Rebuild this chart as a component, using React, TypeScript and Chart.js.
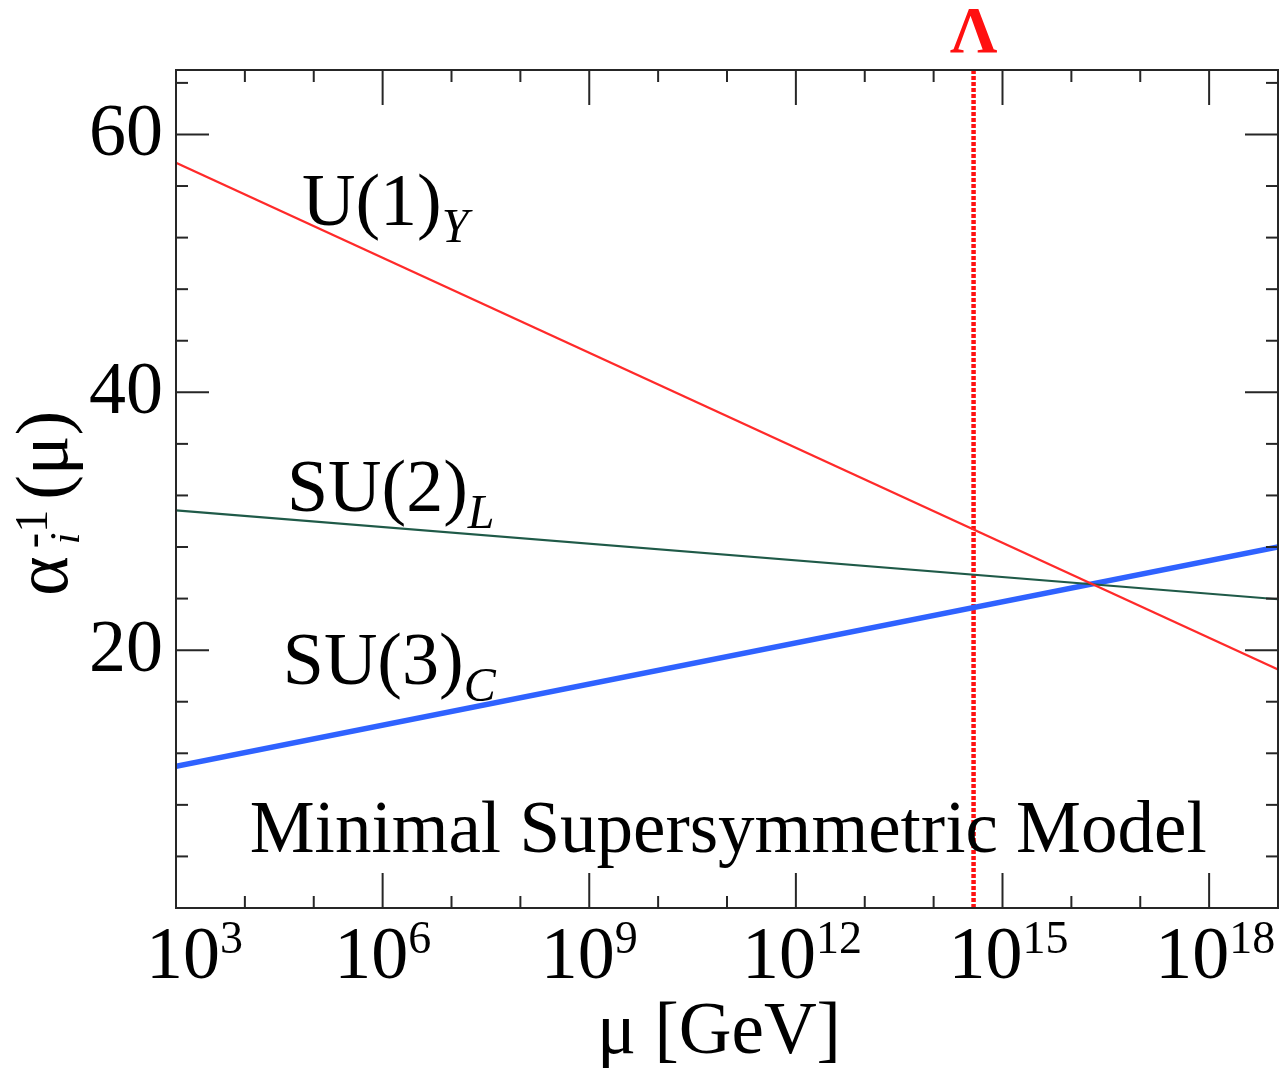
import React, { useEffect, useRef } from "react";
import { Chart, registerables } from "chart.js";

Chart.register(...registerables);

// ---- data (x = log10(mu / GeV)) ----
const logMu = [3, 19];
const u1Y = [57.8, 18.5];
const su2L = [30.85, 23.95];
const su3C = [11.0, 28.0];
const lambdaLogMu = 14.58;

// ---- axis ticks ----
const xMajorExps = [3, 6, 9, 12, 15, 18];
const xMinorExps = [4, 5, 7, 8, 10, 11, 13, 14, 16, 17];
const yMajorTicks = [20, 40, 60];
const yMinorTicks = [4, 8, 12, 16, 24, 28, 32, 36, 44, 48, 52, 56, 64];
const xRange = [3, 19];
const yRange = [0, 65];

const FONT = '"Liberation Serif", "Times New Roman", serif';
const f = (size: number, italic = false, bold = false) =>
  `${italic ? "italic " : ""}${bold ? "bold " : ""}${size}px ${FONT}`;

type Part = { t: string; size: number; italic?: boolean; dy?: number };

function drawRich(ctx: CanvasRenderingContext2D, parts: Part[], x: number, y: number) {
  let cx = x;
  for (const p of parts) {
    ctx.font = f(p.size, p.italic);
    ctx.fillText(p.t, cx, y + (p.dy || 0));
    cx += ctx.measureText(p.t).width;
  }
}

const decorPlugin = {
  id: "decor",
  afterDatasetsDraw(chart: any) {
    const ctx: CanvasRenderingContext2D = chart.ctx;
    const xs = chart.scales.x;
    const ys = chart.scales.y;
    const { left, right, top, bottom } = chart.chartArea;
    ctx.save();
    // frame
    ctx.strokeStyle = "#262626";
    ctx.lineWidth = 2;
    ctx.strokeRect(left, top, right - left, bottom - top);
    const tick = (x1: number, y1: number, x2: number, y2: number) => {
      ctx.beginPath();
      ctx.moveTo(x1, y1);
      ctx.lineTo(x2, y2);
      ctx.stroke();
    };
    for (const e of xMajorExps) {
      const px = xs.getPixelForValue(e);
      tick(px, bottom, px, bottom - 35);
      tick(px, top, px, top + 35);
    }
    for (const e of xMinorExps) {
      const px = xs.getPixelForValue(e);
      tick(px, bottom, px, bottom - 12);
      tick(px, top, px, top + 12);
    }
    for (const v of yMajorTicks) {
      const py = ys.getPixelForValue(v);
      tick(left, py, left + 33, py);
      tick(right, py, right - 33, py);
    }
    for (const v of yMinorTicks) {
      const py = ys.getPixelForValue(v);
      tick(left, py, left + 12, py);
      tick(right, py, right - 12, py);
    }

    ctx.fillStyle = "#000";
    ctx.textBaseline = "alphabetic";
    // y tick labels
    ctx.textAlign = "right";
    ctx.font = f(74);
    for (const v of yMajorTicks) {
      const py = ys.getPixelForValue(v);
      ctx.fillText(String(v), left - 13, py + 21);
    }
    // x tick labels 10^n
    ctx.textAlign = "left";
    for (const e of xMajorExps) {
      const px = xs.getPixelForValue(e);
      ctx.font = f(74);
      const wb = ctx.measureText("10").width;
      ctx.font = f(46);
      const ws = ctx.measureText(String(e)).width;
      let x0 = px - (wb + ws) / 2 + (String(e).length > 1 ? 6 : 0);
      if (x0 < left - 30) x0 = left - 30;
      drawRich(ctx, [{ t: "10", size: 74 }, { t: String(e), size: 46, dy: -25 }], x0, bottom + 70);
    }
    // x title
    ctx.textAlign = "center";
    ctx.font = f(73);
    ctx.fillText("\u03bc [GeV]", (left + right) / 2 - 8, bottom + 145);

    // y title rotated
    ctx.save();
    ctx.translate(67, 596);
    ctx.rotate(-Math.PI / 2);
    ctx.textAlign = "left";
    ctx.font = f(76);
    ctx.fillText("\u03b1", 0, 0);
    const wa = ctx.measureText("\u03b1").width;
    const sx = wa + 8;
    ctx.font = f(42, true);
    ctx.fillText("i", sx + 4, 12);
    ctx.font = f(46);
    ctx.fillText("-1", sx, -20);
    const px2 = sx + ctx.measureText("-1").width + 10;
    ctx.font = f(74);
    ctx.fillText("(\u03bc)", px2, 0);
    ctx.restore();

    // curve labels
    ctx.textAlign = "left";
    const lab = (main: string, sub: string, xv: number, yv: number) => {
      const px = xs.getPixelForValue(xv);
      const py = ys.getPixelForValue(yv);
      drawRich(ctx, [{ t: main, size: 74 }, { t: sub, size: 48, italic: true, dy: 17 }], px, py);
    };
    lab("U(1)", "Y", 4.83, 53.0);
    lab("SU(2)", "L", 4.61, 30.78);
    lab("SU(3)", "C", 4.55, 17.36);
    ctx.font = f(73);
    ctx.fillText("Minimal Supersymmetric Model", xs.getPixelForValue(4.07), ys.getPixelForValue(4.34));

    // Lambda label
    ctx.fillStyle = "#ff1010";
    ctx.textAlign = "center";
    ctx.font = f(66, false, true);
    ctx.fillText("\u039b", xs.getPixelForValue(lambdaLogMu), top - 18);
    ctx.restore();
  },
};

export default function App() {
  const ref = useRef<HTMLCanvasElement | null>(null);
  useEffect(() => {
    if (!ref.current) return;
    const pts = (ys: number[]) => logMu.map((x, i) => ({ x, y: ys[i] }));
    const chart = new Chart(ref.current, {
      type: "scatter",
      data: {
        datasets: [
          { label: "U(1)_Y", data: pts(u1Y), showLine: true, borderColor: "#ff2a2a", borderWidth: 2.2, pointRadius: 0 },
          { label: "SU(2)_L", data: pts(su2L), showLine: true, borderColor: "#1f5a48", borderWidth: 2.2, pointRadius: 0 },
          { label: "SU(3)_C", data: pts(su3C), showLine: true, borderColor: "#2f62ff", borderWidth: 5.5, pointRadius: 0 },
          { label: "SU(3)_C core", data: pts(su3C), showLine: true, borderColor: "rgba(225,232,255,1)", borderWidth: 1.8, pointRadius: 0 },
          {
            label: "Lambda",
            data: [
              { x: lambdaLogMu, y: yRange[0] },
              { x: lambdaLogMu, y: yRange[1] },
            ],
            showLine: true,
            borderColor: "#ff1010",
            borderWidth: 4.5,
            borderDash: [4, 2],
            pointRadius: 0,
          },
        ],
      },
      options: {
        animation: false,
        responsive: false,
        events: [],
        layout: { padding: { left: 176, right: 6, top: 70, bottom: 160 } },
        plugins: { legend: { display: false }, tooltip: { enabled: false } },
        scales: {
          x: { type: "linear", min: xRange[0], max: xRange[1], display: false },
          y: { type: "linear", min: yRange[0], max: yRange[1], display: false },
        },
      },
      plugins: [decorPlugin],
    });
    return () => chart.destroy();
  }, []);
  return (
    <canvas
      ref={ref}
      width={1284}
      height={1068}
      style={{ position: "absolute", left: 0, top: 0, width: 1284, height: 1068, display: "block" }}
    />
  );
}
